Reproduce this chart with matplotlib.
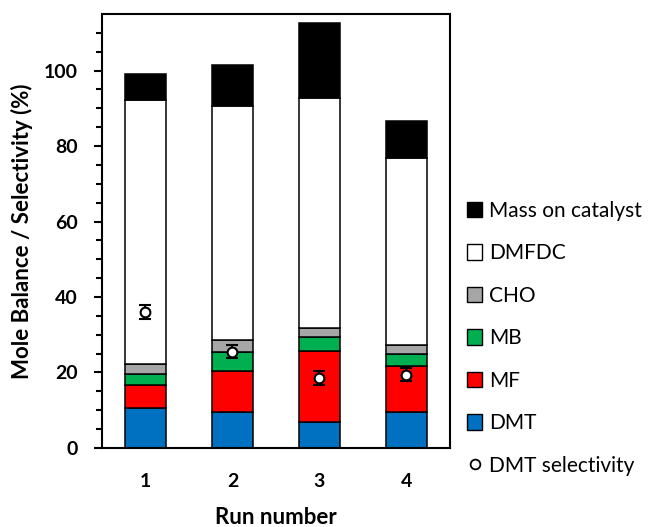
import matplotlib.pyplot as plt
from matplotlib.patches import Patch
from matplotlib.lines import Line2D

plt.rcParams['font.family'] = ['Lato', 'DejaVu Sans']

runs = [1, 2, 3, 4]
dmt = [10.5, 9.6, 7.0, 9.4]
mf = [6.2, 10.8, 18.7, 12.4]
mb = [2.8, 4.9, 3.6, 3.1]
cho = [2.7, 3.3, 2.6, 2.4]
dmfdc = [70.1, 61.9, 60.9, 49.5]
mass = [6.8, 11.1, 19.7, 9.8]
sel = [36.0, 25.5, 18.5, 19.4]
sel_err = [1.9, 1.7, 1.9, 1.7]

series = [("DMT", dmt, "#0070C0"), ("MF", mf, "#FF0000"), ("MB", mb, "#00B050"),
          ("CHO", cho, "#A6A6A6"), ("DMFDC", dmfdc, "white"),
          ("Mass on catalyst", mass, "black")]

fig = plt.figure(figsize=(6.52, 5.27), dpi=100)
ax = fig.add_axes([0.1564, 0.15, 0.5336, 0.8234])

bottom = [0, 0, 0, 0]
for name, vals, col in series:
    ax.bar(runs, vals, 0.47, bottom=bottom, color=col, edgecolor="black", linewidth=1.1)
    bottom = [b + v for b, v in zip(bottom, vals)]

ax.errorbar(runs, sel, yerr=sel_err, fmt="o", mfc="white", mec="black", ms=7, mew=1.5,
            ecolor="black", elinewidth=1.5, capsize=4, capthick=1.5)

ax.set_xlim(0.5, 4.5)
ax.set_ylim(0, 115)
ax.set_yticks([0, 20, 40, 60, 80, 100])
ax.set_yticks(range(0, 115, 5), minor=True)
ax.set_xticks(runs)
ax.tick_params(axis="x", length=0, pad=18, labelsize=14)
ax.tick_params(axis="y", which="major", length=5.5, width=1.5, labelsize=14, pad=12)
ax.tick_params(axis="y", which="minor", length=4, width=1.5)
for lab in ax.get_xticklabels() + ax.get_yticklabels():
    lab.set_fontweight("bold")
for s in ax.spines.values():
    s.set_linewidth(1.5)

ax.set_xlabel("Run number", fontsize=16, fontweight="bold", labelpad=12)
ax.set_ylabel("Mole Balance / Selectivity (%)", fontsize=16, fontweight="bold", labelpad=8)

handles = [Patch(facecolor=col, edgecolor="black", label=name) for name, vals, col in series[::-1]]
handles.append(Line2D([], [], marker="o", ls="none", mfc="white", mec="black", ms=7,
                      mew=1.3, label="DMT selectivity"))
fig.legend(handles=handles, loc="upper left", bbox_to_anchor=(0.716, 0.619), frameon=False,
           fontsize=15, handlelength=0.75, handleheight=0.75, handletextpad=0.3,
           labelspacing=1.08, borderaxespad=0, borderpad=0)

fig.savefig("out.png", dpi=100)
